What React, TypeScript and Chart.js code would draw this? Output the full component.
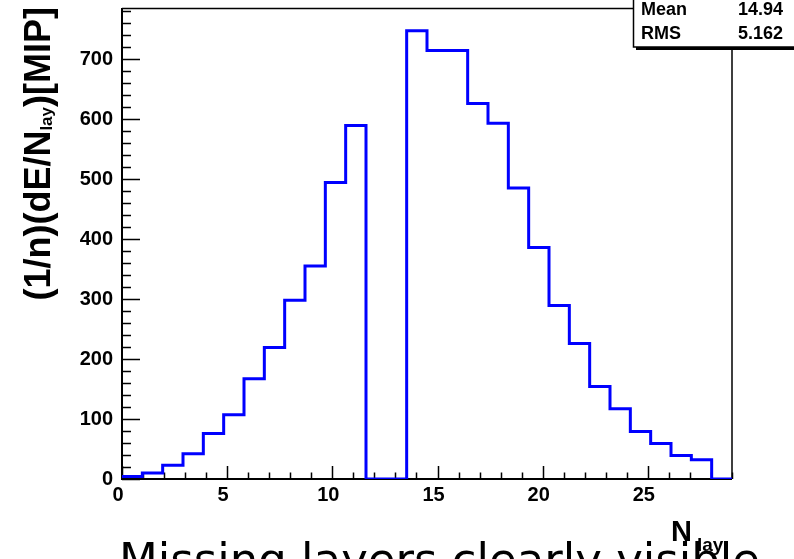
import React, { useEffect, useRef } from 'react';
import { Chart, registerables } from 'chart.js';

Chart.register(...registerables);

// Histogram definition (ROOT TH1: 30 bins from 0 to 29)
const X_MIN = 0;
const X_MAX = 29;
const N_BINS = 30;
const binCounts = [
  4, 10, 23, 42, 76, 107, 167, 219, 298, 355,
  494, 589, 0, 0, 747, 714, 714, 626, 593, 485,
  386, 289, 226, 154, 117, 79, 59, 39, 32, 0,
];
const Y_MIN = 0;
const Y_MAX = 785;
const X_MAJOR_STEP = 5;
const X_MINOR_STEP = 1;
const Y_MAJOR_STEP = 100;
const Y_MINOR_STEP = 20;

const statsLabels = ['Mean', 'RMS'];
const statsValues = ['14.94', '5.162'];

const yTitleMain1 = '(1/n)(dE/N';
const yTitleSub = 'lay';
const yTitleMain2 = ')[MIP]';
const xTitleMain = 'N';
const xTitleSub = 'lay';
const caption = 'Missing layers clearly visible';

const FONT = '"Liberation Sans", Arial, Helvetica, sans-serif';

const rootPlugin = {
  id: 'rootDeco',
  beforeDatasetsDraw(chart: any) {
    const { ctx, chartArea: a, scales } = chart;
    const x = scales.x;
    const y = scales.y;
    ctx.save();
    ctx.strokeStyle = '#000';
    // top and right frame
    ctx.lineWidth = 1.5;
    ctx.beginPath();
    ctx.moveTo(a.left, a.top + 0.5);
    ctx.lineTo(a.right, a.top + 0.5);
    ctx.moveTo(a.right, a.top);
    ctx.lineTo(a.right, a.bottom);
    ctx.stroke();
    // axes
    ctx.lineWidth = 2;
    ctx.beginPath();
    ctx.moveTo(a.left, a.top);
    ctx.lineTo(a.left, a.bottom);
    ctx.lineTo(a.right, a.bottom);
    ctx.stroke();
    // y ticks (inward)
    ctx.lineWidth = 1.5;
    ctx.beginPath();
    for (let v = Y_MIN; v <= y.max; v += Y_MINOR_STEP) {
      const py = Math.round(y.getPixelForValue(v)) + 0.5;
      const len = v % Y_MAJOR_STEP === 0 ? 18 : 9;
      ctx.moveTo(a.left, py);
      ctx.lineTo(a.left + len, py);
    }
    // x ticks (inward)
    for (let v = X_MIN; v <= x.max; v += X_MINOR_STEP) {
      const px = Math.round(x.getPixelForValue(v)) + 0.5;
      const len = v % X_MAJOR_STEP === 0 ? 13 : 6.5;
      ctx.moveTo(px, a.bottom);
      ctx.lineTo(px, a.bottom - len);
    }
    ctx.stroke();
    ctx.restore();
  },
  afterDraw(chart: any) {
    const { ctx } = chart;
    ctx.save();
    // stats box
    ctx.fillStyle = '#000';
    ctx.fillRect(636, 1, 170, 49);
    ctx.fillStyle = '#fff';
    ctx.fillRect(633, -2, 170, 49);
    ctx.strokeStyle = '#000';
    ctx.lineWidth = 1.5;
    ctx.strokeRect(633.5, -2, 170, 49);
    ctx.fillStyle = '#000';
    ctx.font = `bold 18px ${FONT}`;
    ctx.textBaseline = 'middle';
    const rowY = [10, 34];
    statsLabels.forEach((lab, i) => {
      ctx.textAlign = 'left';
      ctx.fillText(lab, 641, rowY[i]);
      ctx.textAlign = 'right';
      ctx.fillText(statsValues[i], 783, rowY[i]);
    });

    // y title (rotated)
    ctx.textAlign = 'left';
    ctx.textBaseline = 'alphabetic';
    ctx.font = `bold 36px ${FONT}`;
    const w1 = ctx.measureText(yTitleMain1).width;
    const w3 = ctx.measureText(yTitleMain2).width;
    ctx.font = `bold 17px ${FONT}`;
    const w2 = ctx.measureText(yTitleSub).width;
    const W = w1 + w2 + w3;
    ctx.save();
    ctx.translate(50, 7 + W);
    ctx.rotate(-Math.PI / 2);
    ctx.font = `bold 36px ${FONT}`;
    ctx.fillText(yTitleMain1, 0, 0);
    ctx.fillText(yTitleMain2, w1 + w2, 0);
    ctx.font = `bold 17px ${FONT}`;
    ctx.fillText(yTitleSub, w1, 2);
    ctx.restore();

    // caption
    ctx.font = `45px "DejaVu Sans", sans-serif`;
    ctx.fillText(caption, 119, 575);

    // x title
    ctx.font = `bold 29px ${FONT}`;
    ctx.fillText(xTitleMain, 671, 541);
    const nW = ctx.measureText(xTitleMain).width;
    ctx.font = `bold 19px ${FONT}`;
    ctx.fillText(xTitleSub, 671 + nW + 5, 551);
    ctx.restore();
  },
};

export default function App() {
  const canvasRef = useRef<HTMLCanvasElement | null>(null);

  useEffect(() => {
    const canvas = canvasRef.current;
    if (!canvas) return;
    const binWidth = (X_MAX - X_MIN) / N_BINS;
    const points = binCounts.map((c, k) => ({ x: X_MIN + k * binWidth, y: c }));
    points.push({ x: X_MAX, y: binCounts[binCounts.length - 1] });

    const tickFont = { family: FONT, size: 20, weight: 'bold' as const };

    const chart = new Chart(canvas, {
      type: 'line',
      data: {
        datasets: [
          {
            data: points,
            stepped: true,
            borderColor: '#0000ff',
            borderWidth: 3,
            pointRadius: 0,
            fill: false,
          },
        ],
      },
      options: {
        animation: false,
        responsive: false,
        devicePixelRatio: 1,
        parsing: false,
        layout: { padding: { top: 8, right: 62, left: 0, bottom: 0 } },
        plugins: {
          legend: { display: false },
          tooltip: { enabled: false },
          title: { display: false },
        },
        scales: {
          x: {
            type: 'linear',
            min: X_MIN,
            max: X_MAX,
            grid: { display: false, drawTicks: false },
            border: { display: false },
            ticks: {
              stepSize: X_MAJOR_STEP,
              includeBounds: false,
              font: tickFont,
              color: '#000',
              padding: 4,
              labelOffset: -4,
              maxRotation: 0,
              autoSkip: false,
            },
            afterFit: (s: any) => {
              s.height = 80;
              s.paddingLeft = 0;
              s.paddingRight = 0;
              s.paddingTop = 0;
              s.paddingBottom = 0;
            },
          },
          y: {
            type: 'linear',
            min: Y_MIN,
            max: Y_MAX,
            grid: { display: false, drawTicks: false },
            border: { display: false },
            ticks: {
              stepSize: Y_MAJOR_STEP,
              includeBounds: false,
              font: tickFont,
              color: '#000',
              padding: 9,
              autoSkip: false,
            },
            afterFit: (s: any) => {
              s.width = 122;
              s.paddingLeft = 0;
              s.paddingRight = 0;
              s.paddingTop = 0;
              s.paddingBottom = 0;
            },
          },
        },
      },
      plugins: [rootPlugin],
    });
    return () => chart.destroy();
  }, []);

  return (
    <div style={{ position: 'absolute', left: 0, top: 0, width: 794, height: 559, background: '#fff' }}>
      <canvas ref={canvasRef} width={794} height={559} style={{ display: 'block' }} />
    </div>
  );
}
